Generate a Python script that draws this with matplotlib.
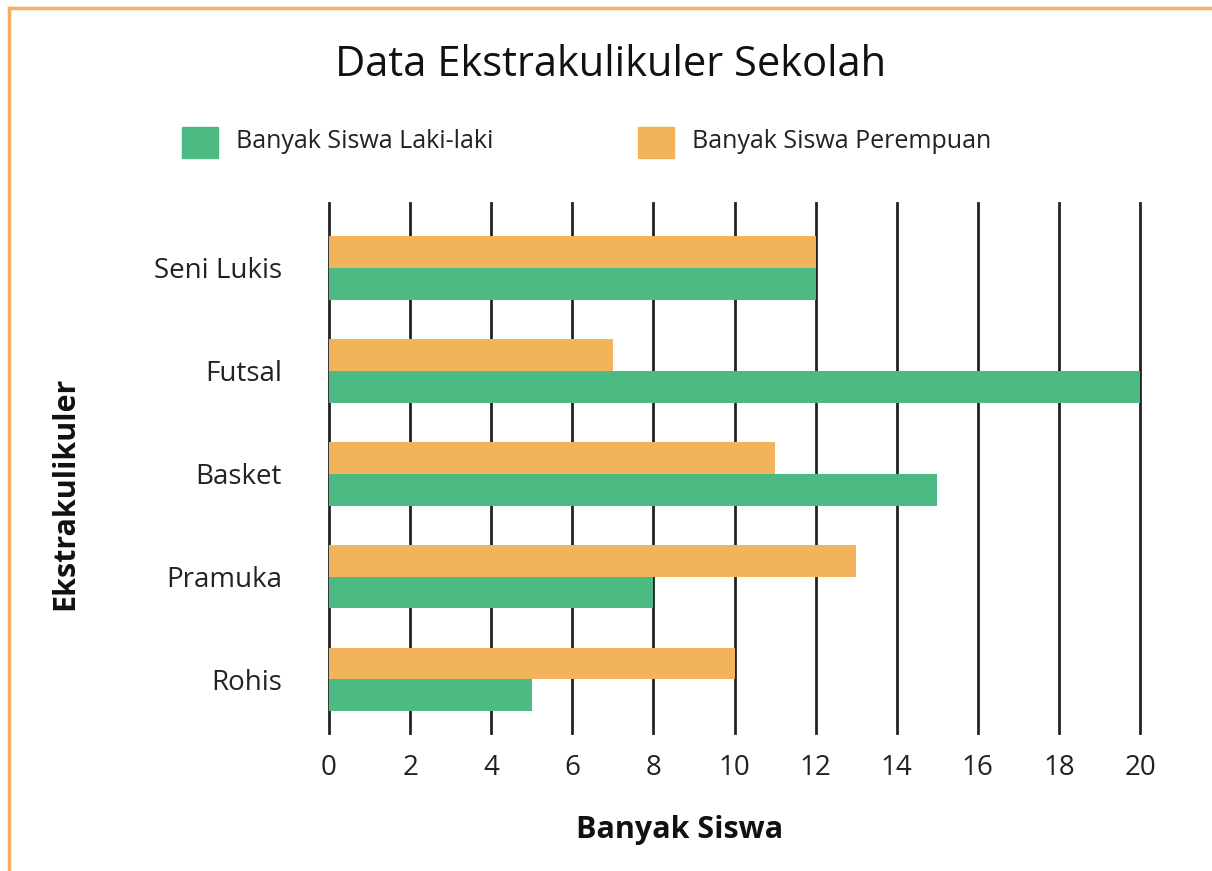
import numpy as np
import matplotlib
matplotlib.use("Agg")
import matplotlib.pyplot as plt
from matplotlib.lines import Line2D
from matplotlib.patches import Rectangle

plt.rcParams["font.family"] = ["Open Sans", "DejaVu Sans"]

# data, top to bottom as drawn
categories = ["Seni Lukis", "Futsal", "Basket", "Pramuka", "Rohis"]
laki_laki = [12, 20, 15, 8, 5]
perempuan = [12, 7, 11, 13, 10]
x_ticks = [0, 2, 4, 6, 8, 10, 12, 14, 16, 18, 20]

GREEN = "#4BBA83"
ORANGE = "#F2B45A"
BORDER = "#F3B15E"

W, H = 1212, 871
fig = plt.figure(figsize=(W / 100, H / 100), dpi=100)

# axes box in pixel coords (left, top, right, bottom)
left, top, right, bottom = 329, 203, 1140, 733
ax = fig.add_axes([left / W, 1 - bottom / H, (right - left) / W, (bottom - top) / H])

n = len(categories)
y = np.arange(n)[::-1]
h = 0.31
ax.barh(y + h / 2, perempuan, height=h, color=ORANGE, zorder=3)
ax.barh(y - h / 2, laki_laki, height=h, color=GREEN, zorder=3)

ax.set_xlim(0, 20)
ax.set_ylim(-0.52, n - 1 + 0.63)
ax.set_xticks(x_ticks)
ax.set_yticks(y)
ax.set_yticklabels(categories)
for xt in x_ticks:
    ax.axvline(xt, color="#222222", lw=2.0, zorder=1, clip_on=False)
for s in ax.spines.values():
    s.set_visible(False)
ax.tick_params(axis="both", length=0, labelsize=20, colors="#222222")
ax.tick_params(axis="x", pad=15)
ax.tick_params(axis="y", pad=34)

# titles and labels
fig.text(611 / W, 1 - 65 / H, "Data Ekstrakulikuler Sekolah", ha="center", va="center",
         fontsize=30, color="#111111")
fig.text(680 / W, 1 - 830 / H, "Banyak Siswa", ha="center", va="center",
         fontsize=22, fontweight="bold", color="#111111")
fig.text(65 / W, 1 - 493 / H, "Ekstrakulikuler", ha="center", va="center", rotation=90,
         fontsize=22, fontweight="bold", color="#111111")

# legend drawn by hand
for px, label, col in [(182, "Banyak Siswa Laki-laki", GREEN), (638, "Banyak Siswa Perempuan", ORANGE)]:
    fig.patches.append(Rectangle((px / W, 1 - 158 / H), 36 / W, 31 / H,
                                 transform=fig.transFigure, color=col))
    fig.text((px + 54) / W, 1 - 142 / H, label, ha="left", va="center",
             fontsize=18, color="#222222")

# orange frame (top and left edges)
fig.lines.append(Line2D([9 / W, 9 / W], [0, 1 - 8 / H], transform=fig.transFigure,
                        color=BORDER, lw=2.5))
fig.lines.append(Line2D([9 / W, 1], [1 - 8 / H, 1 - 8 / H], transform=fig.transFigure,
                        color=BORDER, lw=2.5))

fig.savefig("out.png", dpi=100)
